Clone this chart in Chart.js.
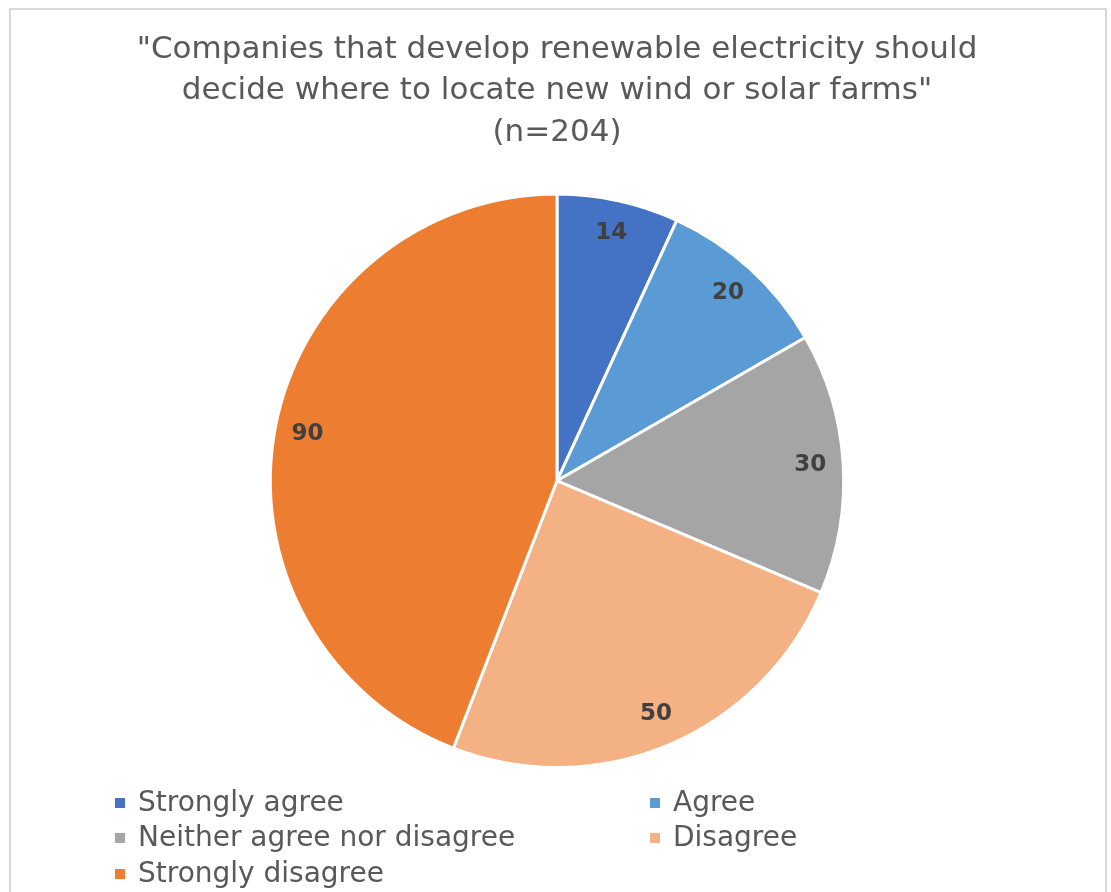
<!DOCTYPE html>
<html>
<head>
<meta charset="utf-8">
<script src="https://cdn.jsdelivr.net/npm/chart.js@4"></script>
<style>
  html, body { margin: 0; padding: 0; background: #fff; overflow: hidden; }
  #wrap { position: relative; width: 1111px; height: 892px; }
  #frame { position: absolute; left: 9px; top: 8px; width: 1098px; height: 900px;
           border: 2px solid #d9d9d9; box-sizing: border-box; pointer-events: none; }
  canvas { position: absolute; left: 0; top: 0; }
  #legend { position: absolute; left: 0; top: 0; width: 1111px; height: 892px; pointer-events: none;
            font-family: "DejaVu Sans", sans-serif; font-size: 28px; color: #595959; }
  .item { position: absolute; white-space: nowrap; line-height: 34px; }
  .item span.box { display: inline-block; width: 10px; height: 10px; margin-right: 13px; vertical-align: 3px; }
</style>
</head>
<body>
<div id="wrap">
  <canvas id="pie" width="1111" height="892"></canvas>
  <div id="legend"></div>
  <div id="frame"></div>
</div>
<script>
const categories = ['Strongly agree', 'Agree', 'Neither agree nor disagree', 'Disagree', 'Strongly disagree'];
const counts = [14, 20, 30, 50, 90];
const colours = ['#4472C4', '#5B9BD5', '#A5A5A5', '#F4B183', '#ED7D31'];
const titleLines = ['"Companies that develop renewable electricity should', 'decide where to locate new wind or solar farms"', '(n=204)'];

// legend spots: two columns, three rows
const legendSpots = [[115, 785], [650, 785], [115, 820], [650, 820], [115, 856]];

const valueLabels = {
  id: 'valueLabels',
  afterDatasetsDraw(chart) {
    const ctx = chart.ctx;
    const meta = chart.getDatasetMeta(0);
    ctx.save();
    ctx.font = 'bold 23px "DejaVu Sans", sans-serif';
    ctx.fillStyle = '#404040';
    ctx.textAlign = 'center';
    ctx.textBaseline = 'middle';
    meta.data.forEach((arc, i) => {
      const p = arc.getProps(['x', 'y', 'startAngle', 'endAngle', 'outerRadius'], true);
      const mid = (p.startAngle + p.endAngle) / 2;
      const r = p.outerRadius * 0.885;
      ctx.fillText(String(counts[i]), p.x + Math.cos(mid) * r, p.y + Math.sin(mid) * r);
    });
    ctx.restore();
  }
};

const ctx = document.getElementById('pie');
new Chart(ctx, {
  type: 'pie',
  data: {
    labels: categories,
    datasets: [{
      data: counts,
      backgroundColor: colours,
      borderColor: '#ffffff',
      borderWidth: 3
    }]
  },
  options: {
    responsive: false,
    animation: false,
    layout: { padding: { top: 0, left: 3, right: 0, bottom: 123 } },
    plugins: {
      legend: { display: false },
      tooltip: { enabled: false },
      title: {
        display: true,
        text: titleLines,
        color: '#595959',
        font: { family: '"DejaVu Sans", sans-serif', size: 31, weight: 'normal', lineHeight: 1.34 },
        padding: { top: 29, bottom: 39 }
      }
    }
  },
  plugins: [valueLabels]
});

const legend = document.getElementById('legend');
categories.forEach((name, i) => {
  const d = document.createElement('div');
  d.className = 'item';
  d.style.left = legendSpots[i][0] + 'px';
  d.style.top = legendSpots[i][1] + 'px';
  d.innerHTML = '<span class="box" style="background:' + colours[i] + '"></span>' + name;
  legend.appendChild(d);
});
</script>
</body>
</html>
